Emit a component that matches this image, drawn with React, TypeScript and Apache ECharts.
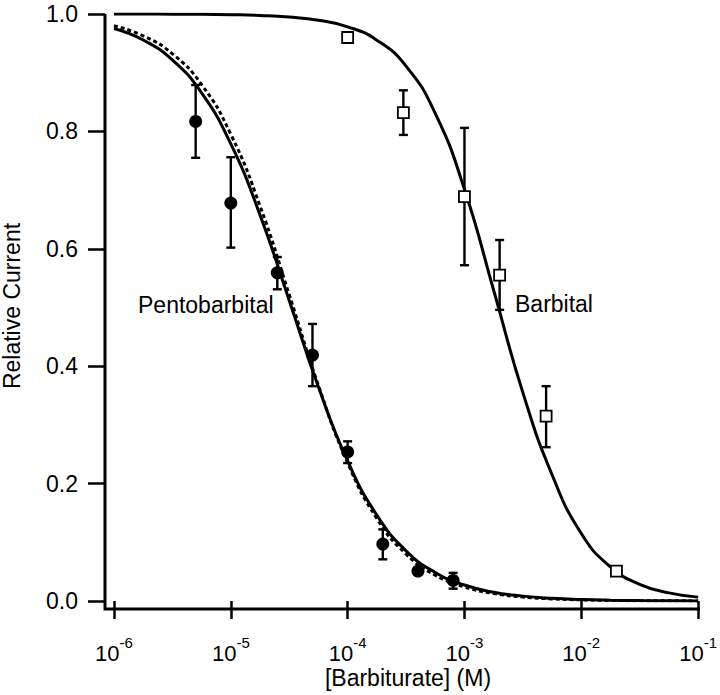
import React, { useEffect, useRef } from "react";
import * as echarts from "echarts";

// Pentobarbital data (filled circles)
const pentoX = [5e-6, 1e-5, 2.5e-5, 5e-5, 1e-4, 2e-4, 4e-4, 8e-4];
const pentoY = [0.817, 0.678, 0.559, 0.419, 0.254, 0.097, 0.051, 0.035];
const pentoLow = [0.755, 0.602, 0.531, 0.366, 0.235, 0.071, 0.045, 0.021];
const pentoHigh = [0.879, 0.756, 0.586, 0.472, 0.272, 0.122, 0.057, 0.048];

// Barbital data (open squares)
const barbX = [1e-4, 3e-4, 1e-3, 2e-3, 5e-3, 2e-2];
const barbY = [0.96, 0.832, 0.689, 0.555, 0.315, 0.051];
const barbLow = [0.958, 0.794, 0.572, 0.496, 0.262, 0.045];
const barbHigh = [0.962, 0.87, 0.806, 0.615, 0.366, 0.057];

// Fitted curves read at quarter-decade steps (log10 of concentration)
const curveExp = [-6, -5.75, -5.5, -5.25, -5, -4.75, -4.5, -4.25, -4, -3.75, -3.5, -3.25, -3, -2.75, -2.5, -2.25, -2, -1.75, -1.5, -1.25, -1];
const pentoFit = [0.9753, 0.9557, 0.9217, 0.8655, 0.7786, 0.6576, 0.5121, 0.3644, 0.2386, 0.1462, 0.0855, 0.0486, 0.0272, 0.015, 0.0083, 0.0045, 0.0025, 0.0014, 0.0007, 0.0004, 0.0002];
const pentoFitDashed = [0.9799, 0.9628, 0.9322, 0.8796, 0.795, 0.673, 0.522, 0.3671, 0.2354, 0.1405, 0.0799, 0.044, 0.0239, 0.0128, 0.0068, 0.0036, 0.0019, 0.001, 0.0005, 0.0003, 0.0002];
const barbFit = [1.0, 0.9999, 0.9997, 0.9994, 0.9988, 0.9976, 0.9949, 0.9894, 0.9782, 0.9554, 0.9112, 0.8308, 0.7015, 0.5294, 0.355, 0.215, 0.1150, 0.0580, 0.0285, 0.0138, 0.0066];

const xMin = 1e-6;
const xMax = 1e-1;
const yMin = 0;
const yMax = 1;
const yInterval = 0.2;

const FONT = "'Liberation Sans', Arial, Helvetica, sans-serif";

const GRID = { left: 114, right: 20, top: 14, bottom: 94 };
const W = 720;
const H = 695;

function errorBarSeries(xs: number[], lo: number[], hi: number[]) {
  return {
    type: "custom",
    z: 3,
    clip: false,
    renderItem: (params: any, api: any) => {
      const x = api.value(0);
      const p1 = api.coord([x, api.value(1)]);
      const p2 = api.coord([x, api.value(2)]);
      const w = 4.5;
      const style = { stroke: "#000", lineWidth: 2.4 };
      return {
        type: "group",
        children: [
          { type: "line", shape: { x1: p1[0], y1: p1[1], x2: p2[0], y2: p2[1] }, style },
          { type: "line", shape: { x1: p1[0] - w, y1: p1[1], x2: p1[0] + w, y2: p1[1] }, style },
          { type: "line", shape: { x1: p2[0] - w, y1: p2[1], x2: p2[0] + w, y2: p2[1] }, style },
        ],
      };
    },
    encode: { x: 0, y: [1, 2] },
    data: xs.map((x, i) => [x, lo[i], hi[i]]),
  };
}

export default function App() {
  const ref = useRef<HTMLDivElement>(null);

  useEffect(() => {
    document.body.style.margin = "0";
    if (!ref.current) return;
    const chart = echarts.init(ref.current, undefined, { renderer: "svg" });

    const axisLeftX = GRID.left - 9;
    const axisBottomY = H - GRID.bottom + 8;

    const option: any = {
      animation: false,
      backgroundColor: "#fff",
      textStyle: { fontFamily: FONT, color: "#000" },
      grid: GRID,
      xAxis: {
        type: "log",
        logBase: 10,
        min: xMin,
        max: xMax,
        offset: 8,
        axisLine: { show: false },
        axisTick: { show: true, length: 18, lineStyle: { color: "#000", width: 2.5 } },
        minorTick: { show: false },
        splitLine: { show: false },
        axisLabel: {
          margin: 26,
          color: "#000",
          fontFamily: FONT,
          formatter: (v: number) => `{a|10}{b|${Math.round(Math.log10(v))}}`,
          rich: {
            a: { fontSize: 22, lineHeight: 36, fontFamily: FONT, color: "#000" },
            b: { fontSize: 15, lineHeight: 15, verticalAlign: "top", fontFamily: FONT, color: "#000" },
          },
        },
      },
      yAxis: {
        type: "value",
        min: yMin,
        max: yMax,
        interval: yInterval,
        offset: 9,
        axisLine: { show: false },
        axisTick: { show: true, length: 17, lineStyle: { color: "#000", width: 2.5 } },
        splitLine: { show: false },
        axisLabel: {
          margin: 27,
          fontSize: 23,
          color: "#000",
          fontFamily: FONT,
          formatter: (v: number) => v.toFixed(1),
        },
      },
      graphic: [
        {
          type: "polyline",
          shape: {
            points: [
              [axisLeftX, GRID.top],
              [axisLeftX, axisBottomY],
              [W - GRID.right, axisBottomY],
            ],
          },
          style: { stroke: "#000", lineWidth: 3, fill: "none" },
          z: 10,
        },
        {
          type: "text",
          x: 12,
          y: 306,
          rotation: Math.PI / 2,
          style: {
            text: "Relative Current",
            font: `23px ${FONT}`,
            fill: "#000",
            align: "center",
            verticalAlign: "middle",
          },
        },
        {
          type: "text",
          x: 408,
          y: 678,
          style: {
            text: "[Barbiturate] (M)",
            font: `23px ${FONT}`,
            fill: "#000",
            align: "center",
            verticalAlign: "middle",
          },
        },
        {
          type: "text",
          x: 138,
          y: 305,
          style: {
            text: "Pentobarbital",
            font: `23px ${FONT}`,
            fill: "#000",
            align: "left",
            verticalAlign: "middle",
          },
        },
        {
          type: "text",
          x: 515,
          y: 304,
          style: {
            text: "Barbital",
            font: `23px ${FONT}`,
            fill: "#000",
            align: "left",
            verticalAlign: "middle",
          },
        },
      ],
      series: [
        {
          type: "line",
          name: "Barbital fit",
          data: curveExp.map((e, i) => [Math.pow(10, e), barbFit[i]]),
          showSymbol: false,
          smooth: 0.5,
          lineStyle: { color: "#000", width: 3 },
          z: 2,
        },
        {
          type: "line",
          name: "Pentobarbital fit",
          data: curveExp.map((e, i) => [Math.pow(10, e), pentoFit[i]]),
          showSymbol: false,
          smooth: 0.5,
          lineStyle: { color: "#000", width: 3 },
          z: 2,
        },
        {
          type: "line",
          name: "Pentobarbital fit (dashed)",
          data: curveExp.map((e, i) => [Math.pow(10, e), pentoFitDashed[i]]),
          showSymbol: false,
          smooth: 0.5,
          lineStyle: { color: "#000", width: 3, type: [4, 3] },
          z: 2,
        },
        errorBarSeries(pentoX, pentoLow, pentoHigh),
        errorBarSeries(barbX, barbLow, barbHigh),
        {
          type: "scatter",
          name: "Pentobarbital",
          data: pentoX.map((x, i) => [x, pentoY[i]]),
          symbol: "circle",
          symbolSize: 13,
          itemStyle: { color: "#000", opacity: 1 },
          z: 4,
        },
        {
          type: "scatter",
          name: "Barbital",
          data: barbX.map((x, i) => [x, barbY[i]]),
          symbol: "rect",
          symbolSize: 11,
          itemStyle: { color: "#fff", borderColor: "#000", borderWidth: 1.8, opacity: 1 },
          z: 4,
        },
      ],
    };

    chart.setOption(option);
    return () => chart.dispose();
  }, []);

  return <div ref={ref} style={{ width: W, height: H }} />;
}
